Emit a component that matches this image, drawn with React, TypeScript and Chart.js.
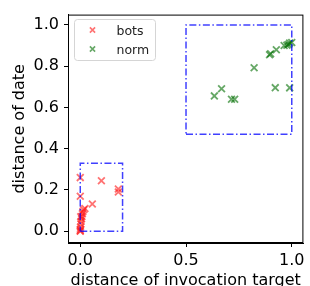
import React, { useEffect, useRef } from "react";
import { Chart, registerables } from "chart.js";

Chart.register(...registerables);

const botsX = [0.0, 0.0, 0.1, 0.18, 0.18, 0.057, 0.022, 0.016, 0.012, 0.01, 0.008, 0.006, 0.004, 0.003, 0.001, 0.0, 0.0, 0.0, 0.002];
const botsY = [0.26, 0.17, 0.245, 0.205, 0.19, 0.132, 0.11, 0.104, 0.095, 0.085, 0.072, 0.06, 0.048, 0.035, 0.02, 0.01, 0.003, 0.0, 0.07];

const normX = [0.634, 0.668, 0.715, 0.73, 0.822, 0.9, 0.895, 0.927, 0.922, 0.99, 0.964, 0.977, 0.99, 1.0, 0.985];
const normY = [0.656, 0.691, 0.64, 0.64, 0.792, 0.86, 0.855, 0.88, 0.696, 0.695, 0.9, 0.902, 0.912, 0.915, 0.905];

const box1X = [0.0, 0.2, 0.2, 0.0, 0.0];
const box1Y = [0.0, 0.0, 0.33, 0.33, 0.0];
const box2X = [0.5, 1.0, 1.0, 0.5, 0.5];
const box2Y = [0.47, 0.47, 1.0, 1.0, 0.47];

const xTicks = [0.0, 0.5, 1.0];
const yTicks = [0.0, 0.2, 0.4, 0.6, 0.8, 1.0];

const legendLabels = ["bots", "norm"];

const FONT = "'DejaVu Sans', sans-serif";
const RED = "rgba(255,20,20,0.6)";
const GREEN = "rgba(0,110,0,0.6)";

const zip = (xs: number[], ys: number[]) => xs.map((x, i) => ({ x, y: ys[i] }));

const framePlugin = {
  id: "frame",
  afterDatasetsDraw(chart: any) {
    const { ctx, chartArea } = chart;
    ctx.save();
    ctx.strokeStyle = "#000";
    ctx.lineWidth = 1;
    ctx.strokeRect(chartArea.left + 0.5, chartArea.top + 0.5, chartArea.right - chartArea.left - 1, chartArea.bottom - chartArea.top - 1);

    // legend
    const x = 74.5, y = 19.5, w = 81, h = 41, r = 3;
    ctx.fillStyle = "rgba(255,255,255,0.8)";
    ctx.strokeStyle = "#d5d5d5";
    ctx.beginPath();
    ctx.moveTo(x + r, y);
    ctx.arcTo(x + w, y, x + w, y + h, r);
    ctx.arcTo(x + w, y + h, x, y + h, r);
    ctx.arcTo(x, y + h, x, y, r);
    ctx.arcTo(x, y, x + w, y, r);
    ctx.closePath();
    ctx.fill();
    ctx.stroke();
    const colors = [RED, GREEN];
    ctx.font = `12.5px ${FONT}`;
    ctx.textBaseline = "alphabetic";
    ctx.textAlign = "left";
    legendLabels.forEach((lab, i) => {
      const cy = 30 + i * 19;
      const cx = 92.5;
      const d = 2.6;
      ctx.strokeStyle = colors[i];
      ctx.lineWidth = 1.6;
      ctx.beginPath();
      ctx.moveTo(cx - d, cy - d);
      ctx.lineTo(cx + d, cy + d);
      ctx.moveTo(cx - d, cy + d);
      ctx.lineTo(cx + d, cy - d);
      ctx.stroke();
      ctx.fillStyle = "#222";
      ctx.fillText(lab, 116.5, 34.5 + i * 19);
    });
    ctx.restore();
  },
};

export default function App() {
  const ref = useRef<HTMLCanvasElement>(null);
  useEffect(() => {
    if (!ref.current) return;
    const boxStyle = {
      showLine: true,
      pointRadius: 0,
      borderColor: "rgba(0,0,255,0.75)",
      borderWidth: 1.5,
      borderDash: [7, 2.5, 1.5, 2.5],
      fill: false,
    };
    const chart = new Chart(ref.current, {
      type: "scatter",
      data: {
        datasets: [
          { label: "box1", data: zip(box1X, box1Y), ...boxStyle } as any,
          { label: "box2", data: zip(box2X, box2Y), ...boxStyle } as any,
          {
            label: "bots",
            data: zip(botsX, botsY),
            pointStyle: "crossRot",
            radius: 4.8,
            borderWidth: 1.8,
            borderColor: RED,
            backgroundColor: RED,
          } as any,
          {
            label: "norm",
            data: zip(normX, normY),
            pointStyle: "crossRot",
            radius: 4.8,
            borderWidth: 1.8,
            borderColor: GREEN,
            backgroundColor: GREEN,
          } as any,
        ],
      },
      options: {
        animation: false,
        responsive: false,
        layout: { padding: { top: 12, right: 3, left: 0, bottom: 0 } },
        plugins: {
          tooltip: { enabled: false },
          legend: { display: false },
        },
        scales: {
          x: {
            type: "linear",
            min: -0.058,
            max: 1.055,
            afterBuildTicks: (s: any) => {
              s.ticks = xTicks.map((v) => ({ value: v }));
            },
            afterFit: (s: any) => {
              s.height = 47;
            },
            ticks: {
              callback: (v: any) => Number(v).toFixed(1),
              font: { family: FONT, size: 16 },
              color: "#000",
              padding: 4,
              maxRotation: 0,
            },
            grid: { drawOnChartArea: false, drawTicks: true, tickLength: 4, color: "#000" },
            border: { display: true, color: "#000" },
            title: {
              display: true,
              text: "distance of invocation target",
              font: { family: FONT, size: 16 },
              color: "#000",
              padding: { top: 0, bottom: 0 },
            },
          },
          y: {
            type: "linear",
            min: -0.057,
            max: 1.05,
            afterBuildTicks: (s: any) => {
              s.ticks = yTicks.map((v) => ({ value: v }));
            },
            afterFit: (s: any) => {
              s.width = 68;
            },
            ticks: {
              callback: (v: any) => Number(v).toFixed(1),
              font: { family: FONT, size: 16 },
              color: "#000",
              padding: 5,
            },
            grid: { drawOnChartArea: false, drawTicks: true, tickLength: 4, color: "#000" },
            border: { display: true, color: "#000" },
            title: {
              display: true,
              text: "distance of date",
              font: { family: FONT, size: 16 },
              color: "#000",
              padding: { top: 10, bottom: 0 },
            },
          },
        },
      },
      plugins: [framePlugin],
    });
    return () => chart.destroy();
  }, []);
  return (
    <div style={{ position: "fixed", left: 0, top: 0, width: 310, height: 286, overflow: "hidden", background: "#fff" }}>
      <canvas ref={ref} width={310} height={290} style={{ display: "block" }} />
    </div>
  );
}
